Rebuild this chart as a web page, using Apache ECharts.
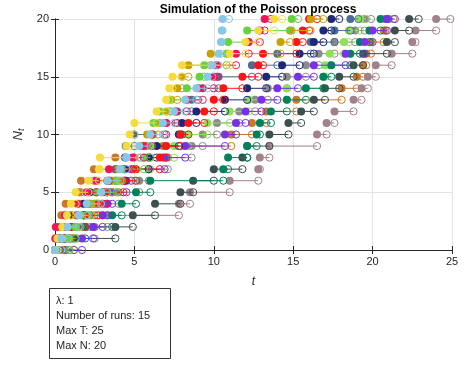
<!DOCTYPE html>
<html><head><meta charset="utf-8">
<script src="https://cdn.jsdelivr.net/npm/echarts@6/dist/echarts.min.js"></script>
<style>html,body{margin:0;padding:0;background:#fff}#c{width:465px;height:365px}</style>
</head><body><div id="c"></div>
<script>
// arrival times t1..t21 for each simulated run (row N spans t_N -> t_{N+1}, t_0 = 0)
const runLightBlue = [0.4,0.8,1.5,2.0,2.9,3.3,4.1,4.5,5.3,6.0,6.8,7.5,8.2,8.9,9.6,9.9,10.3,10.45,10.5,10.55,10.95];
const runYellow    = [0.15,0.45,0.75,1.0,1.3,2.1,2.77,2.83,4.5,4.7,5.0,6.4,7.0,7.2,7.4,8.0,11.0,12.0,12.8,13.8,14.3];
const runPink      = [0.02,0.05,0.63,1.4,2.0,2.6,3.4,4.9,5.6,6.1,7.0,7.6,8.3,9.3,10.0,10.2,11.4,12.2,12.9,13.2,13.6];
const runGreen     = [0.9,1.3,1.6,2.1,2.6,3.9,4.2,5.6,6.0,6.1,6.2,6.6,7.2,8.3,9.1,9.4,10.8,10.9,12.1,14.9,15.3];
const runOlive     = [0.06,0.4,1.3,2.3,2.6,3.6,4.0,5.0,5.4,5.8,6.5,7.0,7.3,7.7,8.0,8.4,9.8,14.2,14.8,16.1,16.9];
const runRed       = [0.5,1.0,1.9,2.7,3.2,4.3,5.1,6.6,7.0,7.9,8.4,9.4,10.0,10.6,11.8,12.8,13.1,15.2,15.6,16.0,16.5];
const runNavy      = [0.3,0.6,1.0,1.8,2.2,3.3,4.4,5.9,6.4,7.8,8.0,8.9,10.7,12.1,13.3,14.3,15.4,16.3,16.9,17.4,17.9];
const runSteel     = [0.7,0.9,1.8,2.5,3.0,3.5,3.8,4.4,4.45,5.0,6.9,7.7,8.6,9.0,10.3,12.4,14.0,16.1,17.6,18.6,19.1];
const runPurple    = [1.7,2.4,3.0,3.3,3.6,4.5,4.8,6.9,8.2,10.7,11.4,12.0,13.0,14.0,15.3,16.3,18.3,19.5,20.0,20.9,21.4];
const runTeal      = [0.5,1.9,3.6,4.2,5.1,6.0,10.6,10.9,12.1,12.7,12.9,13.6,14.6,15.8,16.9,17.4,18.6,19.2,19.8,20.5,21.0];
const runSlate     = [1.2,3.8,4.9,6.3,7.9,8.7,10.0,11.8,12.1,13.5,14.7,15.5,16.3,17.0,17.9,18.8,19.4,20.9,21.4,22.3,22.9];
const runMauve     = [0.9,2.5,3.3,7.8,8.5,11.0,12.8,12.9,13.5,16.5,17.1,17.6,18.8,19.3,19.7,20.2,21.2,22.5,22.7,24.0,24.9];
const runOrange    = [0.1,0.25,0.4,0.67,1.5,1.64,2.45,3.8,6.8,11.1,12.4,13.3,15.2,18.05,19.0,19.4,19.6,19.9,20.7,20.8,21.3];
const runPaleGreen = [0.2,1.1,2.0,2.8,3.3,3.9,5.0,6.0,7.5,8.4,9.6,11.0,12.2,14.6,16.9,17.0,17.3,18.2,18.5,19.2,19.6];
const runGray      = [0.6,1.4,2.2,3.0,4.0,5.3,5.9,7.1,8.6,9.3,10.2,11.6,12.6,13.4,14.6,15.8,16.6,17.6,18.9,19.5,19.9];

const runs = [runGray, runPaleGreen, runOrange, runMauve, runSlate, runTeal, runPurple, runSteel, runNavy, runRed, runOlive, runGreen, runPink, runYellow, runLightBlue];
const runColors = ['#8c8c8c','#8fe05a','#c87828','#a08288','#3c5050','#00825a','#7832e6','#4b6e91','#1e2878','#ff1414','#c8a000','#66d23c','#f0145a','#f5dc3c','#87c8e6'];

const xTicks = [0,5,10,15,20,25];
const yTicks = [0,5,10,15,20];
const infoLines = ['λ: 1','Number of runs: 15','Max T: 25','Max N: 20'];

function rowsOf(arr){
  const t = [0].concat(arr);
  const out = [];
  for (let n = 0; n < t.length - 1; n++) out.push([t[n], t[n+1], n]);
  return out;
}
function renderItem(params, api){
  const s = api.coord([api.value(0), api.value(2)]);
  const e = api.coord([api.value(1), api.value(2)]);
  const c = api.visual('color');
  return {type:'group', children:[
    {type:'line', shape:{x1:s[0],y1:s[1],x2:e[0],y2:e[1]}, style:{stroke:c, lineWidth:1}},
    {type:'circle', shape:{cx:e[0],cy:e[1],r:3.6}, style:{fill:'rgba(0,0,0,0)', stroke:c, lineWidth:1}},
    {type:'circle', shape:{cx:s[0],cy:s[1],r:4}, style:{fill:c, stroke:c, lineWidth:0}}
  ]};
}

const FONT = 'Liberation Sans, Arial, sans-serif';
const axisCommon = {
  axisLine:{show:true, lineStyle:{color:'#262626', width:1}},
  axisTick:{show:true, inside:true, length:4, lineStyle:{color:'#262626'}},
  axisLabel:{color:'#262626', fontSize:11, fontFamily:FONT},
};
const chart = echarts.init(document.getElementById('c'), null, {renderer:'canvas'});
chart.setOption({
  animation:false,
  title:{text:'Simulation of the Poisson process', left:253, top:-1, textAlign:'center',
    textStyle:{fontSize:12, fontWeight:'bold', color:'#000', fontFamily:FONT}},
  grid:{left:55, right:13, top:19, bottom:115},
  xAxis:[
    Object.assign({type:'value', min:0, max:25, interval:5, position:'bottom',
      name:'t', nameLocation:'middle', nameGap:26,
      nameTextStyle:{fontSize:12, fontStyle:'italic', color:'#262626', fontFamily:FONT},
      splitLine:{show:true, lineStyle:{color:'#e3e3e3', width:1}}}, axisCommon,
      {axisLabel:Object.assign({}, axisCommon.axisLabel, {margin:6, formatter:v=>xTicks.includes(v)?String(v):''})}),
    Object.assign({type:'value', min:0, max:25, interval:5, position:'top', splitLine:{show:false}}, axisCommon, {axisLabel:{show:false}})
  ],
  yAxis:[
    Object.assign({type:'value', min:0, max:20, interval:5, position:'left',
      name:'{n|N}{s|t}', nameLocation:'middle', nameGap:25, nameRotate:90,
      nameTextStyle:{rich:{n:{fontSize:13, fontStyle:'italic', color:'#262626', fontFamily:FONT},
                           s:{fontSize:9, fontStyle:'italic', color:'#262626', verticalAlign:'bottom', padding:[6,0,0,0], fontFamily:FONT}}},
      splitLine:{show:true, lineStyle:{color:'#e3e3e3', width:1}}}, axisCommon,
      {axisLabel:Object.assign({}, axisCommon.axisLabel, {margin:6, formatter:v=>yTicks.includes(v)?String(v):''})}),
    Object.assign({type:'value', min:0, max:20, interval:5, position:'right', splitLine:{show:false}}, axisCommon, {axisLabel:{show:false}})
  ],
  series: runs.map((r,i)=>({
    type:'custom', name:'run'+(i+1), renderItem, clip:false,
    itemStyle:{color:runColors[i]},
    encode:{x:[0,1], y:2},
    data: rowsOf(r)
  })),
  graphic:[
    {type:'rect', shape:{x:49.5, y:288.5, width:121, height:70}, style:{fill:'#fff', stroke:'#333', lineWidth:1}},
  ].concat(infoLines.map((t,i)=>({type:'text', x:56, y:301+i*15, style:{text:t, fill:'#262626', font:'11px "Liberation Sans", Arial, sans-serif', textVerticalAlign:'middle'}})))
});
</script></body></html>
